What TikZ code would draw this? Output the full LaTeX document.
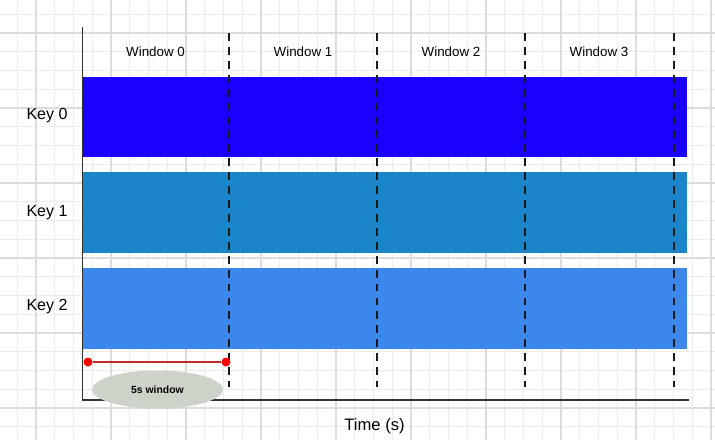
\documentclass[tikz,border=0pt]{standalone}
\usepackage{fontspec}
\setmainfont{Liberation Sans}
\definecolor{keyzero}{RGB}{26,0,255}
\definecolor{keyone}{RGB}{26,134,201}
\definecolor{keytwo}{RGB}{60,135,236}
\definecolor{gridlo}{RGB}{236,236,236}
\definecolor{gridhi}{RGB}{220,220,220}
\definecolor{spanred}{RGB}{190,45,45}
\definecolor{spangrey}{RGB}{205,211,200}
\tikzset{
  gridminor/.style={gridlo, line width=0.7pt},
  gridmajor/.style={gridhi, line width=1.3pt},
  axis/.style={draw=black!80, line width=1.4pt},
  winsep/.style={black!90, line width=1.5pt, dash pattern=on 5.6pt off 4.3pt},
  winlabel/.style={font=\fontsize{9.5}{11}\selectfont},
  keylabel/.style={font=\fontsize{11.4}{13}\selectfont},
  spanbox/.style={ellipse, fill=spangrey, minimum width=93pt, minimum height=27pt,
    inner sep=0pt, font=\bfseries\fontsize{7.4}{9}\selectfont},
  spandot/.style={circle, fill=red, minimum size=6.4pt, inner sep=0pt},
}
\usetikzlibrary{shapes.geometric}
\begin{document}
\begin{tikzpicture}[x=0.025cm,y=-0.025cm]
  \useasboundingbox (0,0) rectangle (715,440);
  % background grid
  \foreach \gx in {-1.5,17.25,...,716} \draw[gridminor] (\gx,0) -- (\gx,440);
  \foreach \gy in {-4.5,14.25,...,441} \draw[gridminor] (0,\gy) -- (715,\gy);
  \foreach \gx in {36,111,...,716} \draw[gridmajor] (\gx,0) -- (\gx,440);
  \foreach \gy in {33,108,...,441} \draw[gridmajor] (0,\gy) -- (715,\gy);
  % key bars
  \fill[keyzero] (83,77) rectangle (687,157);
  \fill[keyone] (83,172) rectangle (687,253);
  \fill[keytwo] (83,268) rectangle (687,349);
  % axes
  \coordinate (top) at (82.5,27);
  \coordinate (origin) at (82.5,400);
  \coordinate (end) at (689,400);
  \draw[axis] (top) -- (origin) -- (end);
  % window borders
  \foreach \x in {229,377,525,674}
    \draw[winsep] (\x,33) -- (\x,387);
  \foreach \x [count=\i from 0] in {155.5,303,451,599}
    \node[winlabel] (w\i) at (\x,52) {Window \i};
  \foreach \y [count=\i from 0] in {116,213,307}
    \node[keylabel] (k\i) at (47,\y) {Key \i};
  % window length
  \node[spanbox] (span) at (157.5,389.5) {5s window};
  \node[spandot] (from) at (88,362) {};
  \node[spandot] (to) at (226,362) {};
  \begin{scope}[-]
    \draw[spanred, line width=1.4pt] (from) to (to);
  \end{scope}
  \node[keylabel, font=\fontsize{11.8}{13}\selectfont] (time) at (374.5,426.5) {Time (s)};
\end{tikzpicture}
\end{document}
